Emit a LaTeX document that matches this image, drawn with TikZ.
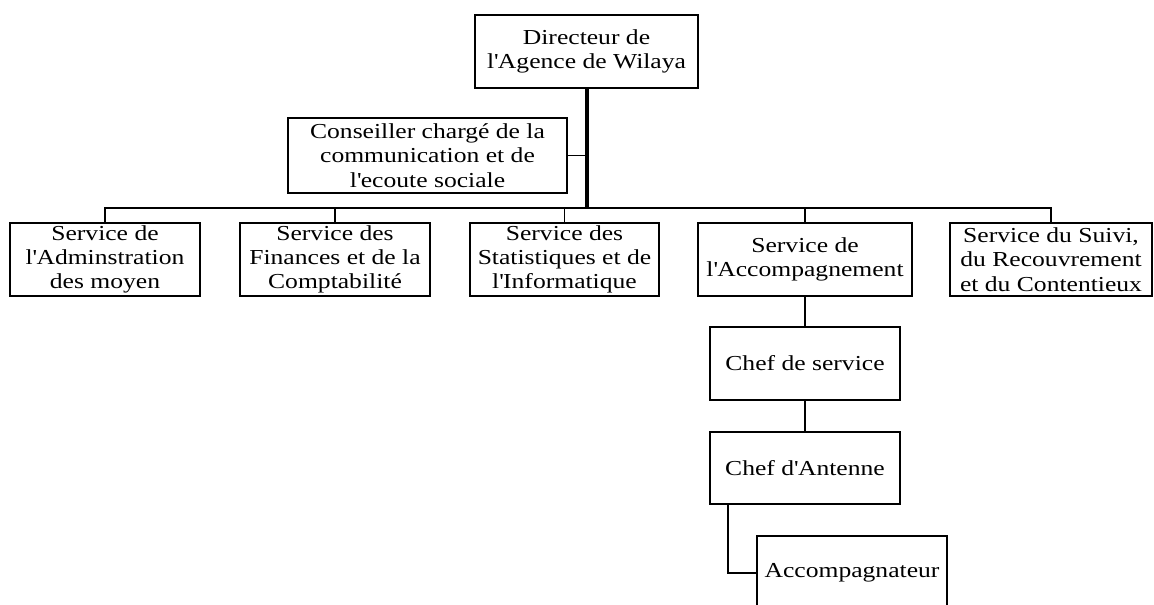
\documentclass[tikz,border=0pt]{standalone}
\usepackage{fontspec}
\setmainfont{Liberation Serif}[FakeStretch=1.2]
\newcommand{\ap}{\textquotesingle}

\tikzset{
  orgbox/.style={draw, line width=1.3pt, align=center, inner sep=0pt,
    minimum height=73*0.75pt, font=\fontsize{16}{18.2}\selectfont},
  link/.style={line width=1.4pt},
  trunk/.style={line width=3pt},
  busline/.style={line width=1.8pt}
}

\begin{document}
\begin{tikzpicture}[x=0.75pt, y=-0.75pt]
  \useasboundingbox (0,0) rectangle (1154,605);

  % top of the chart
  \node[orgbox, minimum width=223*0.75pt] (dir) at (586.5, 51.5) {Directeur de\\l\ap Agence de Wilaya};
  \node[orgbox, minimum width=279*0.75pt, minimum height=75*0.75pt] (cons) at (427.5, 155.5) {Conseiller chargé de la\\communication et de\\l\ap ecoute sociale};

  % services
  \node[orgbox, minimum width=190*0.75pt] (sadm) at (105, 259.5) {Service de\\l\ap Adminstration\\des moyen};
  \node[orgbox, minimum width=190*0.75pt] (sfin) at (335, 259.5) {Service des\\Finances et de la\\Comptabilité};
  \node[orgbox, minimum width=189*0.75pt] (sstat) at (564.5, 259.5) {Service des\\Statistiques et de\\l\ap Informatique};
  \node[orgbox, minimum width=214*0.75pt] (sacc) at (805, 259.5) {Service de\\l\ap Accompagnement};
  \node[orgbox, minimum width=202*0.75pt] (ssuivi) at (1051, 259.5) {Service du Suivi,\\du Recouvrement\\et du Contentieux};

  % under the Accompagnement service
  \node[orgbox, minimum width=190*0.75pt] (chefserv) at (805, 363.5) {Chef de service};
  \node[orgbox, minimum width=190*0.75pt, minimum height=72*0.75pt] (chefant) at (805, 468) {Chef d\ap Antenne};
  \node[orgbox, minimum width=190*0.75pt, minimum height=74*0.75pt] (accomp) at (852, 573) {Accompagnateur};

  \coordinate (bus) at (586.5, 208);

  % connectors
  \draw[trunk] (dir.south) -- (bus);
  \draw[link] (cons.east) -- (cons.east -| dir.south);
  \draw[busline] (sadm.north) -- (sadm.north |- bus) -- (ssuivi.north |- bus) -- (ssuivi.north);
  \foreach \s in {sfin, sstat, sacc}
    \draw[link] (\s.north) -- (\s.north |- bus);
  \draw[link] (sacc.south) -- (chefserv.north);
  \draw[link] (chefserv.south) -- (chefant.north);
  \draw[link] ([xshift=19*0.75pt]chefant.south west) |- (accomp.west);
\end{tikzpicture}
\end{document}
